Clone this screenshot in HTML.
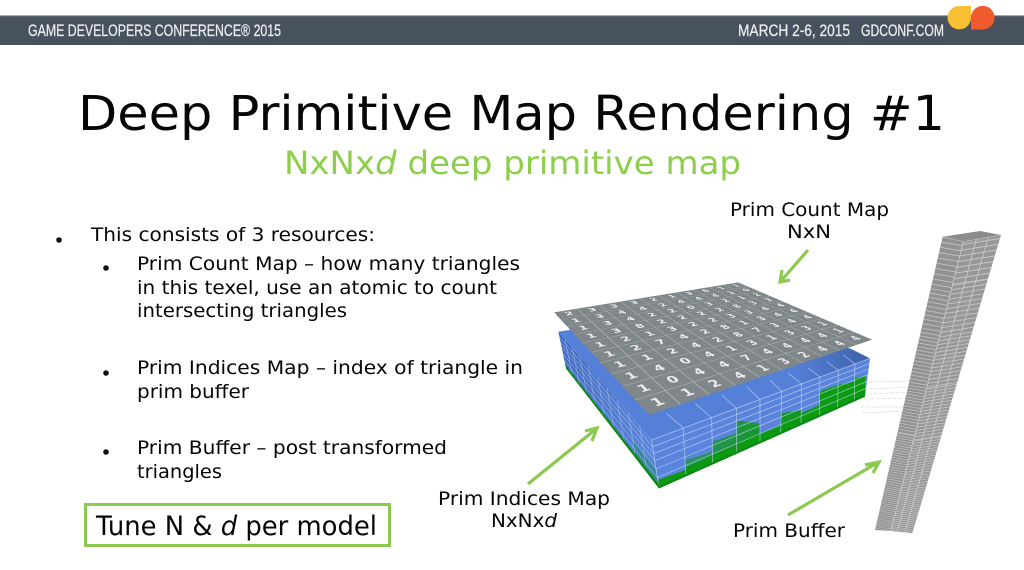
<!DOCTYPE html>
<html><head><meta charset="utf-8"><style>
html,body{margin:0;padding:0;background:#fff}
#s{position:relative;width:1024px;height:570px;overflow:hidden;background:#fff}
svg{position:absolute;left:0;top:0}
.t{font-family:"DejaVu Sans",Verdana,sans-serif;fill:#060606}
.h{font-family:"Liberation Sans",sans-serif;fill:#ececec;stroke:#ececec;stroke-width:.3}
#p{position:absolute;left:0;top:0;width:200px;height:200px;transform-origin:0 0;
transform:matrix3d(2.08125,.29345,0,.0015708,-.7035,-.2401,0,-.0018159,0,0,1,0,554,312.3,0,1);
background-color:#80878a;
background-image:repeating-linear-gradient(90deg,transparent 0 19.5px,rgba(255,255,255,.36) 19.5px 20px),repeating-linear-gradient(0deg,transparent 0 19.3px,rgba(255,255,255,.36) 19.3px 20px);
font:bold 12.5px/20px "DejaVu Sans",sans-serif;color:#eee}
#p div{display:flex;height:20px}
#p span{display:block;width:20px;text-align:center;transform:scale(.8,1.05)}
</style></head><body><div id="s">
<svg width="1024" height="570" viewBox="0 0 1024 570" xmlns="http://www.w3.org/2000/svg">
<defs>
<linearGradient id="tf" gradientUnits="userSpaceOnUse" x1="760" y1="0" x2="990" y2="0"><stop offset="0" stop-color="#5580d8"/><stop offset="1" stop-color="#3e62ab"/></linearGradient>
<linearGradient id="lf" gradientUnits="userSpaceOnUse" x1="55" y1="0" x2="335" y2="0"><stop offset="0" stop-color="#3f69bd"/><stop offset="1" stop-color="#5c86dc"/></linearGradient>
<linearGradient id="ov" gradientUnits="userSpaceOnUse" x1="340" y1="0" x2="840" y2="0"><stop offset="0" stop-color="#5b86dc" stop-opacity=".55"/><stop offset=".55" stop-color="#5b86dc" stop-opacity=".2"/><stop offset="1" stop-color="#5b86dc" stop-opacity="0"/></linearGradient>
<clipPath id="bl"><polygon points="942.7,236.7 963.3,241.7 890.7,531 875,530"/></clipPath>
<clipPath id="br"><polygon points="963.3,241.7 1001,235 912.3,533.3 890.7,531"/></clipPath>
</defs>

<rect x="0" y="15" width="1024" height="30" fill="#48525f"/>
<rect x="0" y="15" width="1024" height="1.2" fill="#a2a8ae"/>
<text class="h" x="28" y="36" font-size="17" textLength="253" lengthAdjust="spacingAndGlyphs">GAME DEVELOPERS CONFERENCE® 2015</text>
<text class="h" x="738" y="36" font-size="17" textLength="112" lengthAdjust="spacingAndGlyphs">MARCH 2-6, 2015</text>
<text class="h" x="861" y="36" font-size="17" textLength="83" lengthAdjust="spacingAndGlyphs">GDCONF.COM</text>
<path d="M971 6V17.7A11.7 11.7 0 1 1 959.3 6Z" fill="#f8c032"/>
<path d="M971 29.5V17.7A11.8 11.8 0 1 1 982.8 29.5Z" fill="#f15a2c"/>

<text class="t" x="78" y="130" font-size="48" textLength="867" lengthAdjust="spacingAndGlyphs">Deep Primitive Map Rendering #1</text>
<text class="t" x="284" y="174" font-size="32" textLength="457" lengthAdjust="spacingAndGlyphs" style="fill:#8dcf4c">NxNx<tspan font-style="italic">d</tspan> deep primitive map</text>

<circle cx="59" cy="240" r="2.8" fill="#111"/>
<circle cx="106" cy="268" r="2.8" fill="#111"/>
<circle cx="106" cy="373" r="2.8" fill="#111"/>
<circle cx="106" cy="452" r="2.8" fill="#111"/>
<g font-size="19">
<text class="t" x="91" y="241" textLength="284" lengthAdjust="spacingAndGlyphs">This consists of 3 resources:</text>
<text class="t" x="137" y="270" textLength="383" lengthAdjust="spacingAndGlyphs">Prim Count Map – how many triangles</text>
<text class="t" x="137" y="294" textLength="360" lengthAdjust="spacingAndGlyphs">in this texel, use an atomic to count</text>
<text class="t" x="137" y="317" textLength="210" lengthAdjust="spacingAndGlyphs">intersecting triangles</text>
<text class="t" x="137" y="374" textLength="386" lengthAdjust="spacingAndGlyphs">Prim Indices Map – index of triangle in</text>
<text class="t" x="137" y="398" textLength="112" lengthAdjust="spacingAndGlyphs">prim buffer</text>
<text class="t" x="137" y="454" textLength="310" lengthAdjust="spacingAndGlyphs">Prim Buffer – post transformed</text>
<text class="t" x="137" y="478" textLength="85" lengthAdjust="spacingAndGlyphs">triangles</text>
<text class="t" x="730" y="216" textLength="159" lengthAdjust="spacingAndGlyphs">Prim Count Map</text>
<text class="t" x="787" y="238" textLength="44" lengthAdjust="spacingAndGlyphs">NxN</text>
<text class="t" x="438" y="505" textLength="172" lengthAdjust="spacingAndGlyphs">Prim Indices Map</text>
<text class="t" x="491" y="527" textLength="66" lengthAdjust="spacingAndGlyphs">NxNx<tspan font-style="italic">d</tspan></text>
<text class="t" x="733" y="537" textLength="112" lengthAdjust="spacingAndGlyphs">Prim Buffer</text>
</g>

<rect x="85.5" y="504.5" width="304" height="41" fill="#fff" stroke="#8cc94f" stroke-width="3"/>
<text class="t" x="96" y="535" font-size="27" textLength="281" lengthAdjust="spacingAndGlyphs">Tune N &amp; <tspan font-style="italic">d</tspan> per model</text>

<!-- faint lines -->
<g stroke="#dedede" stroke-width=".8" stroke-dasharray="4 1.5" fill="none">
<path d="M864 382L918 381M864 389L915 387M868 394L912 392M870 398L910 399M861 407L908 407M862 413L908 411"/>
</g>

<!-- prim buffer -->
<polygon points="942.7,236.7 980,231 1001,235 963.3,241.7" fill="#8c8c8c"/>
<polygon points="942.7,236.7 963.3,241.7 890.7,531 875,530" fill="#929292"/>
<polygon points="963.3,241.7 1001,235 912.3,533.3 890.7,531" fill="#989898"/>
<g clip-path="url(#bl)">
<g transform="translate(910 0) skewY(10) translate(-910 0)" fill="none" stroke="#c2c2c2" stroke-width="120">
<path d="M910 225V280" stroke-dasharray=".9 4.6"/>
<path d="M910 280V330" stroke-dasharray=".85 3.7"/>
<path d="M910 330V385" stroke-dasharray=".8 2.9"/>
<path d="M910 385V435" stroke-dasharray=".75 2.3"/>
<path d="M910 435V490" stroke-dasharray=".7 1.8"/>
<path d="M910 490V545" stroke-dasharray=".6 1.4"/>
</g>
</g>
<g clip-path="url(#br)">
<g transform="translate(950 0) skewY(-9) translate(-950 0)" fill="none" stroke="#c8c8c8" stroke-width="140">
<path d="M950 235V285" stroke-dasharray=".9 4.6"/>
<path d="M950 285V335" stroke-dasharray=".85 3.7"/>
<path d="M950 335V385" stroke-dasharray=".8 2.9"/>
<path d="M950 385V435" stroke-dasharray=".75 2.3"/>
<path d="M950 435V485" stroke-dasharray=".7 1.8"/>
<path d="M950 485V545" stroke-dasharray=".6 1.4"/>
</g>
</g>
<g stroke="#cccccc" stroke-width=".8" fill="none">
<path d="M963.3 241.7L890.7 531M976.7 238.3L897.3 531.7M988.3 236.7L905 532.3"/>
<path d="M942.7 236.7L963.3 241.7L1001 235" stroke="#b5b5b5"/>
</g>

<!-- box, in 3x zoom coordinates -->
<g transform="translate(540 270) scale(.33333)">
<polygon points="55,185 335,510 990,265 930,235 300,150" fill="url(#tf)"/>
<polygon points="55,185 335,510 357,655 78,295" fill="url(#lf)"/>
<polygon points="278,511 348,597 355,645 285.5,555" fill="#148c5a" fill-opacity=".45"/>
<polygon points="335,510 990,265 975,380 357,655" fill="#5a84dc"/>
<polygon fill="#0b9a12" points="357,655 352,630 437,600 437,570 518,545 518,515 590,490 590,452 660,460 660,490 722,465 722,430 783,420 783,430 838,405 838,365 893,345 893,345 943,335 943,325 975,318 975,380"/>
<polygon fill="url(#ov)" points="335,510 990,265 978,345 352,632"/>
<g stroke="#d5e2fb" stroke-opacity=".72" stroke-width="2" fill="none">
<path d="M335 510L990 265M430 474L437 619M515 443L518 584M590 415L590 551M660 388L660 520M725 364L722 493M785 342L783 465M840 321L838 441M895 301L893 416M945 282L943 394"/>
<path d="M338 530L988 281M341 551L986 297M344 572L984 314M348 597L981 334M352 623L978 355"/>
<path d="M430 474L380 430M515 443L465 400M590 415L545 375M660 388L620 350M725 364L690 330M785 342L745 310M840 321L805 295M895 301L860 275M945 282L910 255"/>
<path d="M335 510L357 655"/>
</g>
<g stroke="#c4d6f6" stroke-opacity=".6" stroke-width="1.8" fill="none">
<path d="M75 208L98 320M97 234L120 349M119 260L142 378M145 289L167 410M173 322L195 446M201 354L223 482M231 390L254 522M265 429L287 565M299 468L321 608"/>
<path d="M58 200L338 530M61 216L341 551M65 232L344 572M69 251L348 597M73 271L352 623"/>
</g>
<polygon points="76,285 355,640 357,655 78,295" fill="#0a8c10"/>
<polygon points="78,295 357,655 975,380 975,374 357,648 78,290" fill="#0a8a10"/>
</g>

<!-- arrows -->
<g stroke="#8cc94f" stroke-width="3.2" fill="none">
<path d="M808 250L781 281M790 280L780 282L782 270"/>
<path d="M528 484L596 429M585 431L597 428L592 441"/>
<path d="M788 515L877 463M865 465L879 462L873 473"/>
</g>
</svg>

<div id="p">
<div><span>2</span><span>3</span><span>3</span><span>3</span><span>2</span><span>1</span><span>3</span><span>6</span><span>1</span><span>1</span></div>
<div><span>1</span><span>3</span><span>4</span><span>4</span><span>2</span><span>4</span><span>4</span><span>4</span><span>1</span><span>0</span></div>
<div><span>1</span><span>3</span><span>4</span><span>2</span><span>2</span><span>0</span><span>3</span><span>2</span><span>1</span><span>2</span></div>
<div><span>1</span><span>3</span><span>8</span><span>2</span><span>2</span><span>2</span><span>2</span><span>8</span><span>3</span><span>3</span></div>
<div><span>1</span><span>2</span><span>1</span><span>3</span><span>2</span><span>2</span><span>3</span><span>3</span><span>4</span><span>4</span></div>
<div><span>1</span><span>2</span><span>7</span><span>4</span><span>2</span><span>8</span><span>1</span><span>3</span><span>4</span><span>4</span></div>
<div><span>1</span><span>1</span><span>2</span><span>4</span><span>2</span><span>8</span><span>7</span><span>3</span><span>4</span><span>4</span></div>
<div><span>1</span><span>4</span><span>0</span><span>4</span><span>1</span><span>3</span><span>1</span><span>3</span><span>3</span><span>1</span></div>
<div><span>1</span><span>0</span><span>4</span><span>4</span><span>7</span><span>4</span><span>4</span><span>4</span><span>4</span><span>1</span></div>
<div><span>1</span><span>1</span><span>2</span><span>4</span><span>1</span><span>3</span><span>2</span><span>4</span><span>4</span><span>4</span></div>
</div>
</div></body></html>
